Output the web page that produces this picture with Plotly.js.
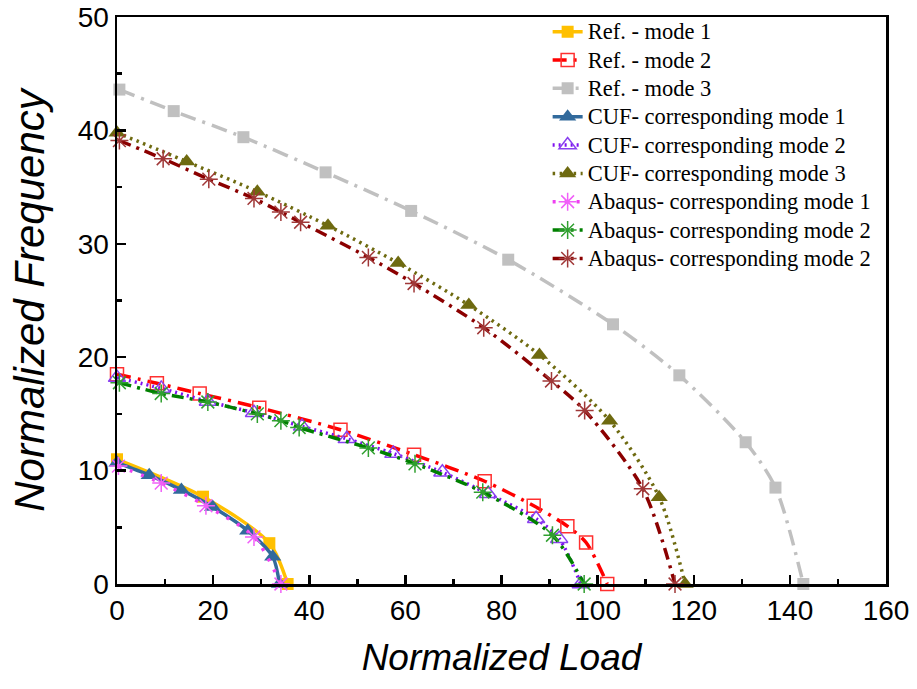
<!DOCTYPE html>
<html>
<head>
<meta charset="utf-8">
<script src="https://cdn.plot.ly/plotly-3.0.1.min.js"></script>
<style>html,body{margin:0;padding:0;background:#fff;}#chart{width:917px;height:689px;}</style>
</head>
<body>
<div id="chart"></div>
<script>
// ---- data ----
const refMode1X = [0, 17.9, 31.7, 35.5];
const refMode1Y = [11.0, 7.7, 3.6, 0];

const refMode2X = [0, 8.3, 17.2, 29.6, 46.5, 61.8, 76.5, 86.7, 93.7, 97.6, 102];
const refMode2Y = [18.5, 17.7, 16.8, 15.55, 13.6, 11.4, 9.06, 6.9, 5.1, 3.66, 0];

const refMode3X = [0.5, 11.8, 26.3, 43.4, 61.2, 81.4, 103.2, 117, 130.8, 137, 142.8];
const refMode3Y = [43.6, 41.7, 39.4, 36.3, 32.9, 28.6, 22.9, 18.4, 12.5, 8.5, 0];

const cufMode1X = [0, 6.7, 13.4, 19.9, 27.2, 32.4, 33.8];
const cufMode1Y = [10.7, 9.6, 8.3, 6.8, 4.7, 2.4, 0];

const cufMode2X = [0, 9.2, 18.9, 28.5, 38.5, 47.8, 57.5, 67.7, 77.2, 87.2, 92, 96.5];
const cufMode2Y = [18.2, 17.25, 16.1, 15.1, 13.9, 12.8, 11.5, 9.85, 7.96, 5.76, 4.0, 0];

const cufMode3X = [0, 14.5, 29.2, 43.9, 58.5, 73.2, 87.9, 102.5, 112.8, 118.2];
const cufMode3Y = [39.8, 37.25, 34.6, 31.6, 28.3, 24.6, 20.2, 14.4, 7.66, 0];

const abqMode1X = [0.3, 9.2, 18.5, 28.5, 34.1];
const abqMode1Y = [10.4, 8.9, 6.9, 4.15, 0];

const abqMode2X = [0.5, 9.2, 18.9, 29.2, 34.1, 37.9, 52.3, 62, 76.1, 90.6, 97.2];
const abqMode2Y = [17.75, 16.8, 16.05, 15.0, 14.4, 13.8, 12.0, 10.6, 8.1, 4.3, 0];

const abqMode3X = [0.5, 9.6, 19.1, 28.5, 34.1, 38.2, 52.3, 61.8, 76.3, 90.4, 97.3, 109.4, 116.1];
const abqMode3Y = [39.1, 37.5, 35.7, 34.0, 32.8, 31.9, 28.8, 26.5, 22.6, 17.9, 15.3, 8.4, 0];

const seriesNames = [
  "Ref. - mode 1", "Ref. - mode 2", "Ref. - mode 3",
  "CUF- corresponding mode 1", "CUF- corresponding mode 2", "CUF- corresponding mode 3",
  "Abaqus- corresponding mode 1", "Abaqus- corresponding mode 2", "Abaqus- corresponding mode 2"
];

const xTickVals = [0, 20, 40, 60, 80, 100, 120, 140, 160];
const yTickVals = [0, 10, 20, 30, 40, 50];

// ---- traces ----
function lbl(s){ return '<span style="font-size:22.5px">' + s + '</span>'; }
function tr(x, y, name, lineColor, dash, sym, mSize, mColor, mLineColor, mLineW){
  return {
    type: 'scatter', mode: 'lines+markers', x: x, y: y, name: lbl(name),
    cliponaxis: false,
    line: {color: lineColor, width: 3.5, dash: dash, shape: 'spline', smoothing: 0.8},
    marker: {symbol: sym, size: mSize, color: mColor, line: {color: mLineColor, width: mLineW}}
  };
}
const data = [
  tr(refMode1X, refMode1Y, seriesNames[0], '#FFC000', 'solid', 'square', 12, '#FFC000', '#FFC000', 0),
  tr(refMode2X, refMode2Y, seriesNames[1], '#FF0000', '14px,7px,3px,7px', 'square-open', 13, '#FF3030', '#FF3030', 1.5),
  tr(refMode3X, refMode3Y, seriesNames[2], '#C0C0C0', '16px,7px,3px,7px', 'square', 12, '#C0C0C0', '#C0C0C0', 0),
  tr(cufMode1X, cufMode1Y, seriesNames[3], '#326A9C', 'solid', 'triangle-up', 15, '#326A9C', '#326A9C', 0),
  tr(cufMode2X, cufMode2Y, seriesNames[4], '#7F10F0', '2px,4px', 'triangle-up-open', 15, '#8A40F0', '#8A40F0', 1.5),
  tr(cufMode3X, cufMode3Y, seriesNames[5], '#6E6A10', '2.5px,4.5px', 'triangle-up', 15, '#6E6A10', '#6E6A10', 0),
  tr(abqMode1X, abqMode1Y, seriesNames[6], '#EE40F0', '3px,9px', 'asterisk-open', 15, '#F060F8', '#F060F8', 1.5),
  tr(abqMode2X, abqMode2Y, seriesNames[7], '#008000', '12px,6px,3px,6px', 'asterisk-open', 15, '#30A030', '#30A030', 1.5),
  tr(abqMode3X, abqMode3Y, seriesNames[8], '#8B0000', '12px,6px,3px,6px', 'asterisk-open', 15, '#A03838', '#A03838', 1.5)
];

const axisFont = {family: 'Liberation Sans, Arial, sans-serif', size: 28, color: '#000'};
const layout = {
  width: 917, height: 689,
  margin: {l: 117, r: 31, t: 17, b: 105, pad: 0},
  paper_bgcolor: '#fff', plot_bgcolor: '#fff',
  showlegend: true,
  legend: {
    x: 0.56, y: 1.008, xanchor: 'left', yanchor: 'top',
    bgcolor: 'rgba(0,0,0,0)', borderwidth: 0,
    font: {family: 'Liberation Serif, Times New Roman, serif', size: 19.5, color: '#000'}
  },
  xaxis: {
    range: [0, 160], tickvals: xTickVals, ticktext: xTickVals.map(String),
    ticks: 'inside', ticklen: 9, tickwidth: 2.5, tickcolor: '#000',
    minor: {dtick: 10, tick0: 0, ticks: 'inside', ticklen: 5, tickwidth: 2.5, tickcolor: '#000'},
    showline: true, linecolor: '#000', linewidth: 2.5, mirror: true,
    showgrid: false, zeroline: false,
    tickfont: axisFont,
    title: {text: '<i>Normalized Load</i>', font: {family: 'Liberation Sans, Arial, sans-serif', size: 37, color: '#000'}, standoff: 19}
  },
  yaxis: {
    range: [0, 50], tickvals: yTickVals, ticktext: yTickVals.map(String),
    ticks: 'inside', ticklen: 9, tickwidth: 2.5, tickcolor: '#000',
    minor: {dtick: 5, tick0: 0, ticks: 'inside', ticklen: 5, tickwidth: 2.5, tickcolor: '#000'},
    showline: true, linecolor: '#000', linewidth: 2.5, mirror: true,
    showgrid: false, zeroline: false, ticklabeloverflow: 'allow',
    tickfont: axisFont,
    title: {text: '<i>Normalized Frequency</i>', font: {family: 'Liberation Sans, Arial, sans-serif', size: 42, color: '#000'}, standoff: 20}
  }
};

Plotly.newPlot('chart', data, layout, {displayModeBar: false, staticPlot: true});
</script>
</body>
</html>
